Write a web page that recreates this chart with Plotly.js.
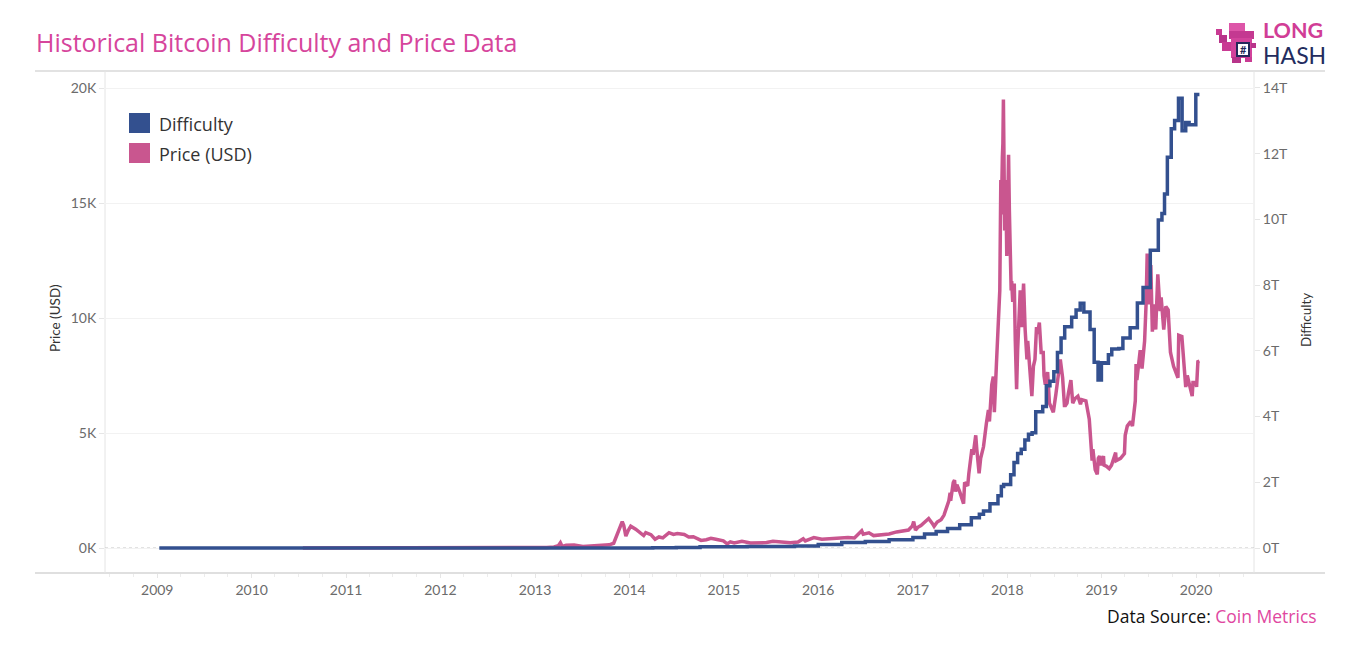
<!DOCTYPE html>
<html>
<head>
<meta charset="utf-8">
<script src="https://cdn.plot.ly/plotly-3.0.1.min.js"></script>
<style>
html,body{margin:0;padding:0;background:#fff;}
#chart{width:1366px;height:650px;}
</style>
</head>
<body>
<div id="chart"></div>
<script>
// ---------------- DATA ----------------
const yearTicks = ['2009','2010','2011','2012','2013','2014','2015','2016','2017','2018','2019','2020'];
const priceTickVals = [0, 5000, 10000, 15000, 20000];
const priceTickText = ['0K', '5K', '10K', '15K', '20K'];
const diffTickVals = [0, 2, 4, 6, 8, 10, 12, 14];
const diffTickText = ['0T', '2T', '4T', '6T', '8T', '10T', '12T', '14T'];

const priceDates = [
'2010-07-18','2010-10-01','2010-11-07','2011-02-10','2011-04-25','2011-06-08','2011-07-15','2011-09-01','2011-10-20',
'2012-01-08','2012-03-01','2012-06-01','2012-08-16','2012-10-01','2013-01-01','2013-02-15','2013-03-15','2013-04-01',
'2013-04-09','2013-04-16','2013-05-01','2013-06-01','2013-07-05','2013-08-15','2013-09-15','2013-10-15','2013-11-01',
'2013-11-18','2013-12-04','2013-12-10','2013-12-18','2013-12-27','2014-01-06','2014-01-25','2014-02-10','2014-02-25',
'2014-03-05','2014-03-25','2014-04-10','2014-04-25','2014-05-10','2014-06-03','2014-06-20','2014-07-05','2014-08-01',
'2014-08-18','2014-09-05','2014-09-22','2014-10-05','2014-10-25','2014-11-12','2014-12-01','2014-12-30','2015-01-14',
'2015-01-26','2015-02-10','2015-03-12','2015-04-14','2015-05-15','2015-06-15','2015-07-10','2015-08-20','2015-09-15',
'2015-10-15','2015-11-04','2015-11-12','2015-12-15','2016-01-15','2016-02-15','2016-03-15','2016-04-25','2016-05-20',
'2016-06-17','2016-06-23','2016-07-15','2016-08-02','2016-09-01','2016-10-01','2016-10-30','2016-11-20','2016-12-15',
'2016-12-30',
'2017-01-04','2017-01-11','2017-01-20','2017-02-01','2017-02-23','2017-03-03','2017-03-17','2017-03-24','2017-04-05',
'2017-04-20','2017-05-01','2017-05-10','2017-05-20','2017-05-25','2017-05-27','2017-06-06','2017-06-11','2017-06-15',
'2017-06-20','2017-07-01','2017-07-16','2017-07-20','2017-08-01','2017-08-05','2017-08-17','2017-08-22','2017-09-01',
'2017-09-05','2017-09-14','2017-09-20','2017-10-01','2017-10-12','2017-10-20','2017-10-24','2017-11-02','2017-11-08',
'2017-11-12','2017-11-20','2017-11-26','2017-11-29','2017-12-01','2017-12-03','2017-12-07','2017-12-09','2017-12-13',
'2017-12-15','2017-12-17','2017-12-19','2017-12-22','2017-12-26','2017-12-30','2018-01-03','2018-01-06','2018-01-09',
'2018-01-12','2018-01-16','2018-01-18','2018-01-22','2018-01-28','2018-02-01','2018-02-06','2018-02-10','2018-02-14',
'2018-02-20','2018-02-25','2018-03-05','2018-03-11','2018-03-14','2018-03-18','2018-03-21','2018-03-26','2018-04-01',
'2018-04-06','2018-04-12','2018-04-18','2018-04-24','2018-04-28','2018-05-05','2018-05-12','2018-05-20','2018-05-23',
'2018-05-28','2018-06-06','2018-06-13','2018-06-22','2018-06-28','2018-07-08','2018-07-17','2018-07-25','2018-08-03',
'2018-08-10','2018-08-14','2018-08-20','2018-08-25','2018-09-04','2018-09-11','2018-09-20','2018-10-01','2018-10-11',
'2018-10-16','2018-11-01','2018-11-14','2018-11-20','2018-11-25','2018-11-28','2018-12-07','2018-12-15','2018-12-19',
'2018-12-24','2018-12-28','2019-01-08','2019-01-10','2019-01-20','2019-01-30','2019-02-08','2019-02-18','2019-02-24',
'2019-02-26','2019-03-15','2019-03-30','2019-04-02','2019-04-10','2019-04-23','2019-04-30','2019-05-11','2019-05-14',
'2019-05-17','2019-05-30','2019-06-06','2019-06-16','2019-06-22','2019-06-26','2019-06-28','2019-07-02','2019-07-10',
'2019-07-16','2019-07-20','2019-07-29','2019-08-06','2019-08-15','2019-08-19','2019-08-29','2019-09-06','2019-09-15',
'2019-09-24','2019-10-06','2019-10-23','2019-10-26','2019-11-07','2019-11-22','2019-11-28','2019-12-17','2019-12-20',
'2019-12-31','2020-01-03','2020-01-08','2020-01-14'
];
const priceValues = [
0.09,0.06,0.39,1.1,1.6,29.6,14,8,2.3,
7,4.9,5.3,13.5,12.4,13.3,27,47,100,
230,68,117,129,68,100,127,140,206,
700,1150,980,520,760,950,820,680,540,
670,580,380,480,440,665,590,630,590,
480,490,410,330,360,420,380,310,180,
270,220,295,220,240,235,290,230,230,
260,400,310,450,380,410,415,460,440,
750,600,660,540,575,610,700,740,780,
960,
1150,780,900,980,1180,1280,1070,940,1130,
1230,1420,1750,2050,2400,2050,2850,2950,2450,
2750,2450,1930,2850,2700,3200,4300,4050,4900,
4300,3250,3900,4400,5400,6000,5500,7100,7450,
5900,8000,9300,9900,10900,11200,16000,14500,17000,
17600,19500,17500,13800,16000,12700,15000,17100,14700,
13500,11200,11600,10700,11500,9000,6900,8600,9500,
11200,9600,11500,9500,9100,8200,9000,8100,6900,
6600,7900,8200,9600,9300,9800,8500,8500,7500,
7100,7650,6300,6000,5900,6700,7400,8200,7400,
6200,6200,6300,6700,7300,6300,6500,6600,6250,
6450,6400,5600,4450,3800,4300,3400,3200,3900,
4000,3600,4000,3600,3550,3450,3600,3900,4150,
3800,3900,4100,4900,5300,5500,5300,6400,8000,
7300,8600,7800,9000,10700,12800,11000,10600,12300,
9400,10600,9500,11900,10300,10900,9500,10500,10350,
8500,7900,7400,9250,9200,7000,7500,6600,7200,
7200,7000,8100,8130
];

// Difficulty in trillions (T)
const diffDates = [
'2009-01-09','2010-01-01','2010-07-01','2011-01-01','2011-07-01','2012-01-01','2012-07-01','2013-01-01','2013-07-01',
'2014-01-01','2014-04-01','2014-07-01','2014-10-01','2015-01-01','2015-04-01','2015-07-01','2015-10-01','2016-01-01',
'2016-04-01','2016-07-01','2016-10-01','2017-01-01','2017-02-15','2017-04-01','2017-05-15','2017-07-01','2017-08-15',
'2017-09-15','2017-10-01','2017-10-26','2017-11-26','2017-12-09','2017-12-18','2018-01-14','2018-01-27','2018-02-10',
'2018-02-24','2018-03-10','2018-03-24','2018-04-07','2018-04-21','2018-05-18','2018-06-01','2018-06-15','2018-06-30',
'2018-07-14','2018-07-28','2018-08-11','2018-09-07','2018-09-24','2018-10-10','2018-10-24','2018-11-17','2018-12-03',
'2018-12-18','2018-12-31','2019-01-13','2019-01-27','2019-02-09','2019-03-08','2019-03-24','2019-04-21','2019-05-19',
'2019-06-10','2019-07-08','2019-08-08','2019-08-22','2019-09-01','2019-09-12','2019-09-27','2019-10-10','2019-10-25',
'2019-11-08','2019-11-22','2019-12-05','2019-12-18','2019-12-31','2020-01-14'
];
const diffValues = [
0.000000000001,0.0000000000012,0.00000000018,0.000000016,0.0000016,0.0000012,0.0000019,0.0000033,0.000021,
0.0014,0.0055,0.0169,0.0344,0.0409,0.0476,0.0493,0.0601,0.1031,
0.1659,0.1998,0.2538,0.3172,0.4240,0.4995,0.5960,0.7086,0.9231,
1.03,1.123,1.347,1.59,1.87,1.931,2.227,2.603,2.874,
3.007,3.29,3.463,3.511,4.143,4.307,4.94,5.078,5.364,
5.95,6.39,6.73,7.02,7.24,7.45,7.18,6.65,5.65,
5.11,5.64,5.62,5.88,6.06,6.07,6.39,6.70,7.46,
7.93,9.06,9.98,10.18,10.77,11.89,12.76,13.01,13.69,
12.70,12.95,12.88,12.88,13.80,13.80
];

// ---------------- LAYOUT HELPERS ----------------
const W = 1366, H = 650, ML = 105, MR = 112, MT = 71, MB = 77;
const PW = W - ML - MR, PH = H - MT - MB;
const px = x => (x - ML) / PW;
const py = y => (H - MB - y) / PH;

const PINK = '#c9568f', BLUE = '#33508f';
const tickFont = {family: 'Lato, "Open Sans", sans-serif', size: 14, color: '#6b6b6b'};
const SANS = '"Open Sans", "Noto Sans", sans-serif';

const traces = [
  {x: priceDates, y: priceValues, type: 'scatter', mode: 'lines', yaxis: 'y',
   line: {color: PINK, width: 3.5}, showlegend: false, hoverinfo: 'skip'},
  {x: diffDates, y: diffValues, type: 'scatter', mode: 'lines', yaxis: 'y2',
   line: {color: BLUE, width: 3.5, shape: 'hv'}, showlegend: false, hoverinfo: 'skip'}
];

function line(x0, y0, x1, y1, color, width, dash) {
  return {type: 'line', xref: 'paper', yref: 'paper', x0: px(x0), y0: py(y0), x1: px(x1), y1: py(y1),
          line: {color: color, width: width, dash: dash || 'solid'}, layer: 'below'};
}
function rect(x0, y0, x1, y1, fill) {
  return {type: 'rect', xref: 'paper', yref: 'paper', x0: px(x0), y0: py(y0), x1: px(x1), y1: py(y1),
          line: {width: 0}, fillcolor: fill, layer: 'above'};
}

const shapes = [
  line(35, 71, 1325, 71, '#e2e2e2', 2),
  line(35, 573, 1325, 573, '#d4d4d4', 1.5),
  line(105, 71, 105, 573, '#e4e4e4', 1),
  line(1254, 71, 1254, 573, '#e4e4e4', 1),
  {type: 'line', xref: 'paper', yref: 'y', x0: 0, x1: 1, y0: 0, y1: 0,
   line: {color: '#c4c4c4', width: 1, dash: 'dot'}, layer: 'below'},
  // legend swatches
  rect(129, 113, 150, 133, BLUE),
  rect(129, 143, 150, 163, PINK),
  // logo (pixel dinosaur)
  rect(1216, 29, 1222, 35, '#c93b93'),
  rect(1219, 35, 1227, 43, '#b8348a'),
  rect(1222, 42, 1232, 51, '#c93b93'),
  rect(1229, 23, 1245, 32, '#dd55a8'),
  rect(1229, 31, 1254, 39, '#c43991'),
  rect(1231, 38, 1252, 58, '#d2439b'),
  rect(1251, 43, 1256, 48, '#b8348a'),
  rect(1232, 57, 1241, 63, '#b8348a'),
  rect(1245, 57, 1252, 62, '#c93b93'),
  rect(1236, 42, 1250, 57, '#23295a'),
  rect(1238, 44, 1248, 55, '#ffffff')
];

const annotations = [
  {xref: 'paper', yref: 'paper', x: px(34), y: py(42), xanchor: 'left', yanchor: 'middle', showarrow: false,
   text: 'Historical Bitcoin Difficulty and Price Data',
   font: {family: SANS, size: 25, color: '#d6459c'}},
  {xref: 'paper', yref: 'paper', x: px(55), y: py(318), xanchor: 'center', yanchor: 'middle', showarrow: false,
   textangle: -90, text: 'Price (USD)', font: {family: 'Lato, sans-serif', size: 13.5, color: '#333'}},
  {xref: 'paper', yref: 'paper', x: px(1306), y: py(320), xanchor: 'center', yanchor: 'middle', showarrow: false,
   textangle: -90, text: 'Difficulty', font: {family: 'Lato, sans-serif', size: 13.5, color: '#333'}},
  {xref: 'paper', yref: 'paper', x: px(157), y: py(124), xanchor: 'left', yanchor: 'middle', showarrow: false,
   text: 'Difficulty', font: {family: SANS, size: 18, color: '#333'}},
  {xref: 'paper', yref: 'paper', x: px(157), y: py(154), xanchor: 'left', yanchor: 'middle', showarrow: false,
   text: 'Price (USD)', font: {family: SANS, size: 18, color: '#333'}},
  {xref: 'paper', yref: 'paper', x: px(1319), y: py(616), xanchor: 'right', yanchor: 'middle', showarrow: false,
   text: 'Data Source: <span style="color:#e0479f">Coin Metrics</span>',
   font: {family: SANS, size: 17.5, color: '#111'}},
  {xref: 'paper', yref: 'paper', x: px(1261), y: py(30), xanchor: 'left', yanchor: 'middle', showarrow: false,
   text: '<b>LONG</b>', font: {family: 'Lato, sans-serif', size: 21.5, color: '#d13d96'}},
  {xref: 'paper', yref: 'paper', x: px(1261), y: py(55), xanchor: 'left', yanchor: 'middle', showarrow: false,
   text: 'HASH', font: {family: 'Lato, sans-serif', size: 23, color: '#232c5e'}},
  {xref: 'paper', yref: 'paper', x: px(1243), y: py(49.5), xanchor: 'center', yanchor: 'middle', showarrow: false,
   text: '<b>#</b>', font: {family: 'Lato, sans-serif', size: 11, color: '#23295a'}}
];

const layout = {
  width: W, height: H,
  margin: {l: ML, r: MR, t: MT, b: MB, pad: 0},
  paper_bgcolor: '#fff', plot_bgcolor: '#fff',
  showlegend: false,
  xaxis: {
    type: 'date', range: ['2008-06-13', '2020-08-12'],
    tickvals: yearTicks.map(y => y + '-01-01'), ticktext: yearTicks,
    showgrid: false, zeroline: false, showline: false,
    ticks: 'outside', ticklen: 4, tickcolor: '#e6e6e6', tickwidth: 1,
    minor: {dtick: 'M3', tick0: '2009-01-01', ticks: 'outside', ticklen: 3, tickcolor: '#ececec', showgrid: false},
    tickfont: tickFont, fixedrange: true
  },
  yaxis: {
    range: [-1087, 20739], tickvals: priceTickVals, ticktext: priceTickText,
    showgrid: true, gridcolor: '#f2f2f2', gridwidth: 1, zeroline: false, showline: false,
    ticks: 'outside', ticklen: 5, tickcolor: '#e6e6e6', tickfont: tickFont, fixedrange: true
  },
  yaxis2: {
    overlaying: 'y', side: 'right', range: [-0.761, 14.517],
    tickvals: diffTickVals, ticktext: diffTickText,
    showgrid: false, zeroline: false, showline: false,
    ticks: 'outside', ticklen: 5, tickcolor: '#e6e6e6', tickfont: tickFont, fixedrange: true
  },
  shapes: shapes,
  annotations: annotations
};

Plotly.newPlot('chart', traces, layout, {displayModeBar: false, staticPlot: true});
</script>
</body>
</html>
